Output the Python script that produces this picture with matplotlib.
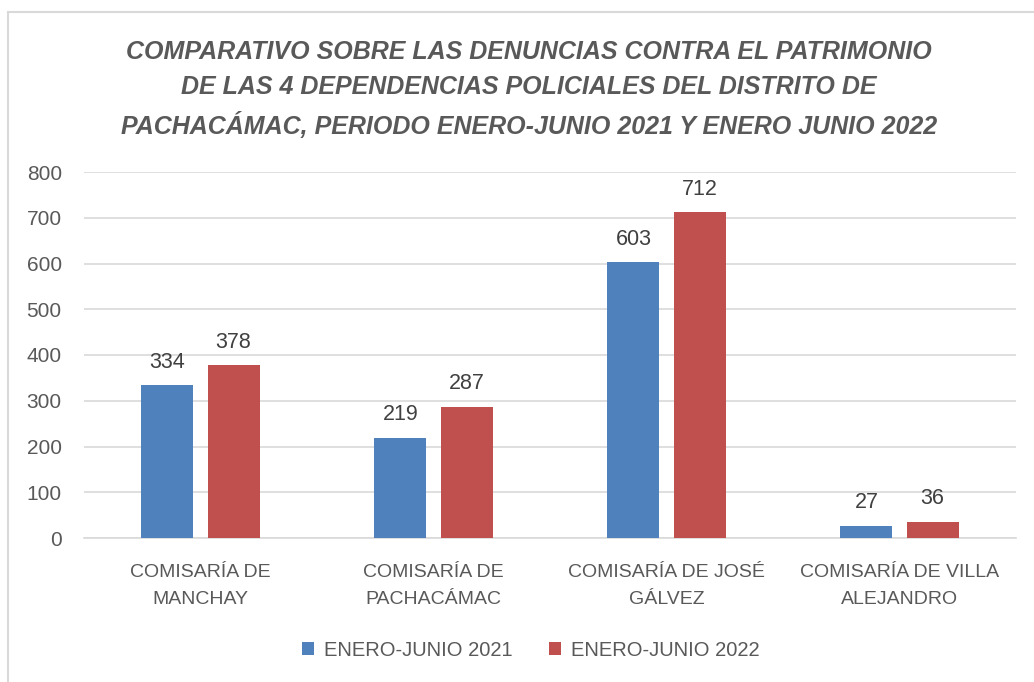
import matplotlib
matplotlib.use("Agg")
import matplotlib.pyplot as plt
from matplotlib.lines import Line2D
from matplotlib.patches import Patch
import numpy as np

categories = ["COMISARÍA DE\nMANCHAY", "COMISARÍA DE\nPACHACÁMAC",
              "COMISARÍA DE JOSÉ\nGÁLVEZ", "COMISARÍA DE VILLA\nALEJANDRO"]
series_names = ["ENERO-JUNIO 2021", "ENERO-JUNIO 2022"]
values_2021 = [334, 219, 603, 27]
values_2022 = [378, 287, 712, 36]
yticks = [0, 100, 200, 300, 400, 500, 600, 700, 800]
title = ("COMPARATIVO SOBRE LAS DENUNCIAS CONTRA EL PATRIMONIO\n"
         "DE LAS 4 DEPENDENCIAS POLICIALES DEL DISTRITO DE\n"
         "PACHACÁMAC, PERIODO ENERO-JUNIO 2021 Y ENERO JUNIO 2022")

colors = ["#4F81BD", "#C0504D"]
plt.rcParams['font.family'] = ['Liberation Sans', 'DejaVu Sans']

W, H = 1034, 682
fig = plt.figure(figsize=(W / 100, H / 100), dpi=100)
ax = fig.add_axes([84 / W, 1 - 538 / H, (1016 - 84) / W, (538 - 172) / H])

x = np.arange(len(categories))
bw = 0.223
off = 0.142
for i, (vals, c) in enumerate(zip([values_2021, values_2022], colors)):
    pos = x + (-off if i == 0 else off)
    bars = ax.bar(pos, vals, width=bw, color=c, zorder=3)
    for b, v in zip(bars, vals):
        ax.annotate(str(v), (b.get_x() + b.get_width() / 2, v),
                    xytext=(0, 9), textcoords="offset points",
                    ha="center", va="bottom", fontsize=15.5, color="#404040")

ax.set_xlim(-0.5, len(categories) - 0.5)
ax.set_ylim(0, 800)
ax.set_yticks(yticks)
ax.set_yticklabels([str(t) for t in yticks], fontsize=15, color="#595959")
ax.set_xticks(x)
ax.set_xticklabels(categories, fontsize=14, color="#595959", linespacing=1.75)
ax.tick_params(axis="both", length=0)
ax.tick_params(axis="y", pad=16)
ax.tick_params(axis="x", pad=19)
ax.grid(axis="y", color="#d9d9d9", linewidth=1.2, zorder=0)
for s in ["top", "right", "left"]:
    ax.spines[s].set_visible(False)
ax.spines["bottom"].set_color("#d9d9d9")
ax.spines["bottom"].set_linewidth(1.2)

fig.text(529 / W, 1 - 89.5 / H, title, ha="center", va="center",
         fontsize=18, fontweight="bold", fontstyle="italic",
         color="#595959", linespacing=1.6)

handles = [Patch(facecolor=c) for c in colors]
fig.legend(handles, series_names, loc="center", bbox_to_anchor=(531 / W, 1 - 650 / H),
           ncol=2, frameon=False, fontsize=14.5, labelcolor="#595959",
           handlelength=0.6, handleheight=0.6, handletextpad=0.5, columnspacing=1.8)

# chart border (left and top)
fig.add_artist(Line2D([7.5 / W, 7.5 / W], [0, 1 - 11.5 / H], transform=fig.transFigure,
                      color="#d9d9d9", linewidth=1.5))
fig.add_artist(Line2D([7.5 / W, 1], [1 - 11.5 / H, 1 - 11.5 / H], transform=fig.transFigure,
                      color="#d9d9d9", linewidth=1.5))

fig.savefig("out.png", dpi=100, facecolor="white")
